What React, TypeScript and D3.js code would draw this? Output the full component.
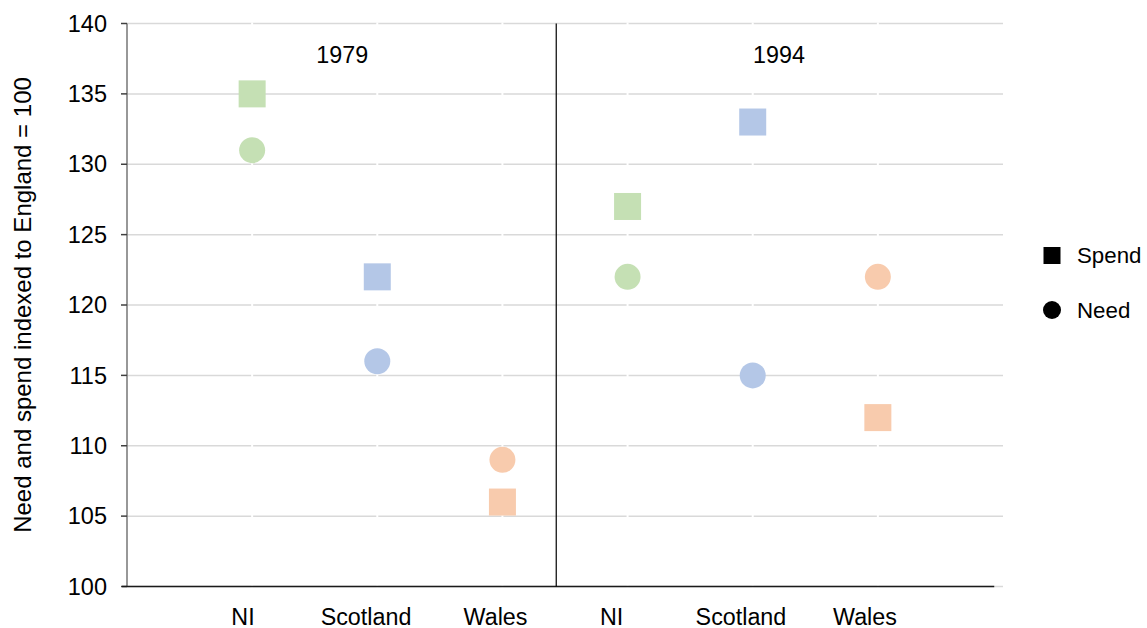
import React from "react";
import * as d3 from "d3";

const categories = ["NI", "Scotland", "Wales", "NI", "Scotland", "Wales"];
const categoryX = [1, 2, 3, 4, 5, 6];
const labelX = [0.927, 1.91, 2.945, 3.873, 4.906, 5.897];
const colors = ["#c5e0b4", "#b4c7e7", "#f8cbad", "#c5e0b4", "#b4c7e7", "#f8cbad"];
const spend = [135, 122, 106, 127, 133, 112];
const need = [131, 116, 109, 122, 115, 122];
const yTicks = [100, 105, 110, 115, 120, 125, 130, 135, 140];
const yearLabels = ["1979", "1994"];
const yearLabelX = [1.72, 5.21];
const yearLabelY = 137.2;
const dividerX = 3.43;
const legendItems = ["Spend", "Need"];

const W = 1147;
const H = 628;
const FONT = "'Liberation Sans', Arial, sans-serif";

export default function App() {
  const x = d3.scaleLinear().domain([0, 7]).range([127, 1003]);
  const y = d3.scaleLinear().domain([100, 140]).range([586.5, 23.5]);
  const sq = 27;
  const r = 13;

  return (
    <svg
      width={W}
      height={H}
      style={{ position: "absolute", left: 0, top: 0, background: "#fff" }}
      fontFamily={FONT}
    >
      {/* gridlines */}
      {yTicks.map((t) => (
        <line key={"g" + t} x1={x(0)} x2={x(7)} y1={y(t)} y2={y(t)} stroke="#d9d9d9" strokeWidth={1.5} />
      ))}
      {/* white gaps at category positions */}
      {categoryX.map((c) => (
        <line key={"w" + c} x1={x(c)} x2={x(c)} y1={y(140) - 1} y2={y(100) + 1} stroke="#fff" strokeWidth={2} />
      ))}
      {/* y axis */}
      <line x1={x(0)} x2={x(0)} y1={y(140)} y2={y(100)} stroke="#767676" strokeWidth={1.5} />
      {yTicks.map((t) => (
        <g key={"t" + t}>
          <line x1={x(0) - 6} x2={x(0)} y1={y(t)} y2={y(t)} stroke="#404040" strokeWidth={1.5} />
          <text x={107} y={y(t)} dy="0.35em" textAnchor="end" fontSize={23.5} fill="#000">
            {t}
          </text>
        </g>
      ))}
      {/* x axis line */}
      <line x1={x(0) - 5} x2={x(6.93)} y1={y(100)} y2={y(100)} stroke="#1a1a1a" strokeWidth={1.5} />
      {/* divider */}
      <line x1={x(dividerX)} x2={x(dividerX)} y1={y(140)} y2={y(100)} stroke="#000" strokeWidth={1.2} />
      {/* x labels */}
      {categories.map((c, i) => (
        <text key={"x" + i} x={x(labelX[i])} y={624.5} textAnchor="middle" fontSize={23.3} fill="#000">
          {c}
        </text>
      ))}
      {/* year labels */}
      {yearLabels.map((l, i) => (
        <text key={"y" + i} x={x(yearLabelX[i])} y={y(yearLabelY)} textAnchor="middle" fontSize={23.3} fill="#000">
          {l}
        </text>
      ))}
      {/* markers */}
      {need.map((v, i) => (
        <circle key={"n" + i} cx={x(categoryX[i])} cy={y(v)} r={r} fill={colors[i]} />
      ))}
      {spend.map((v, i) => (
        <rect key={"s" + i} x={x(categoryX[i]) - sq / 2} y={y(v) - sq / 2} width={sq} height={sq} fill={colors[i]} />
      ))}
      {/* y title */}
      <text
        transform={`translate(31,305) rotate(-90)`}
        textAnchor="middle"
        fontSize={24}
        fill="#000"
      >
        Need and spend indexed to England = 100
      </text>
      {/* legend */}
      <rect x={1052 - 8.5} y={255.5 - 8.5} width={17} height={17} fill="#000" />
      <text x={1077} y={255.5} dy="0.35em" fontSize={22.3} fill="#000">
        {legendItems[0]}
      </text>
      <circle cx={1052} cy={310} r={9} fill="#000" />
      <text x={1077} y={310} dy="0.35em" fontSize={22.3} fill="#000">
        {legendItems[1]}
      </text>
    </svg>
  );
}
